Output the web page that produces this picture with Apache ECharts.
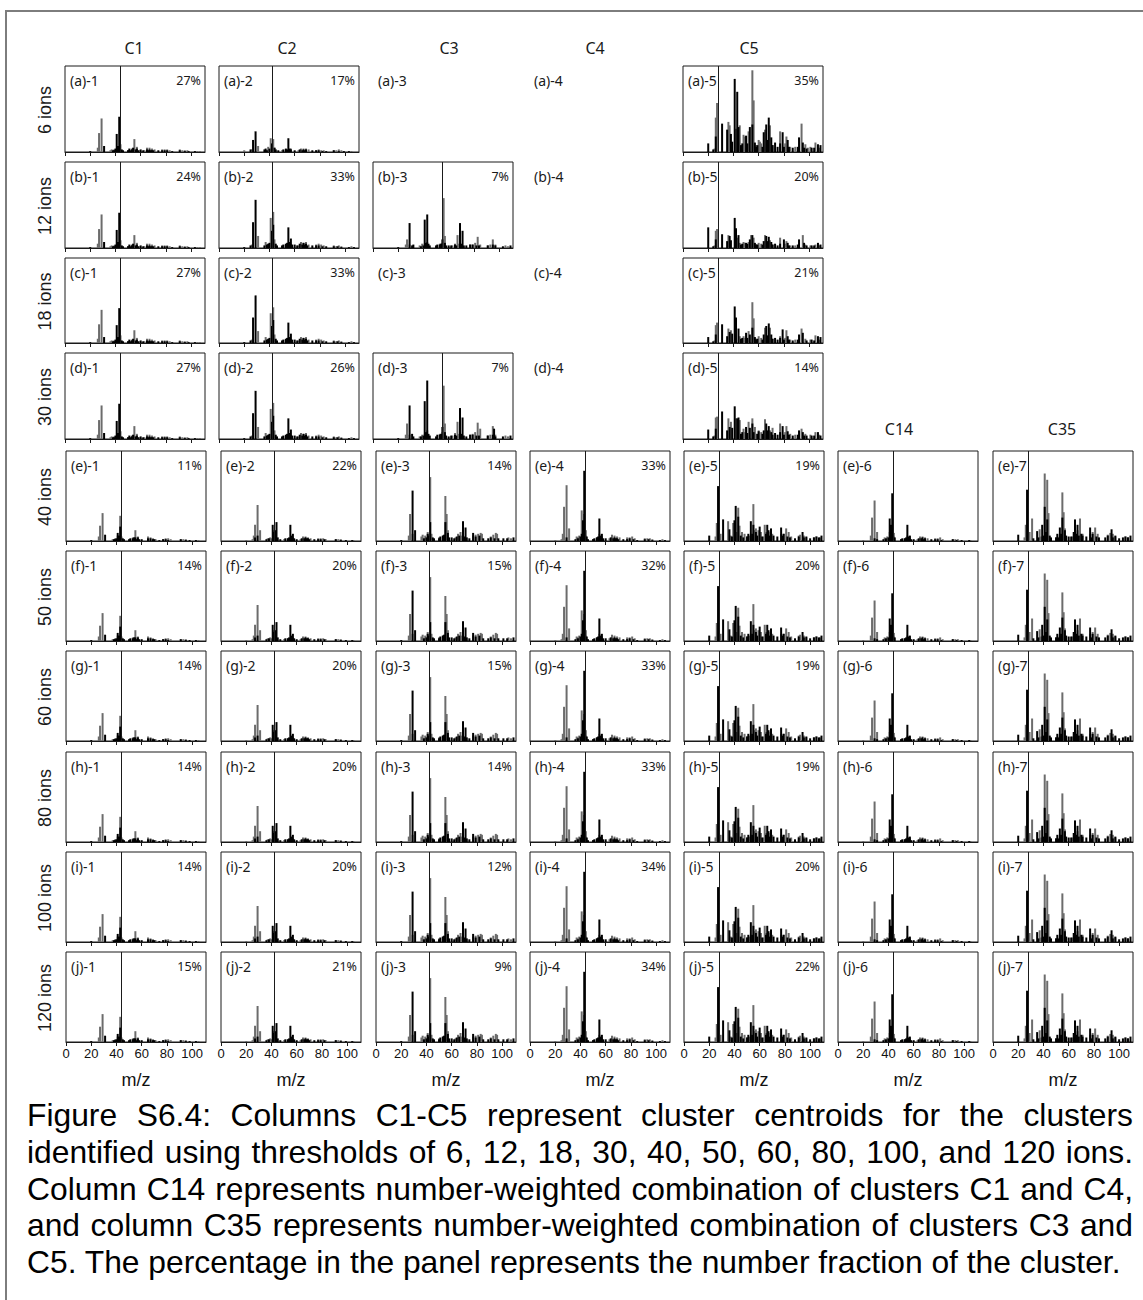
<!DOCTYPE html>
<html>
<head>
<meta charset="utf-8">
<title>Figure S6.4 cluster centroids</title>
<script src="https://cdn.jsdelivr.net/npm/echarts@6/dist/echarts.min.js"></script>
<style>
  html, body { margin: 0; padding: 0; background: #fff; }
  #page { position: relative; width: 1143px; height: 1300px; overflow: hidden; }
  #frame { position: absolute; left: 5px; top: 10px; width: 1200px; height: 1400px;
           border-left: 2px solid #7d7d7d; border-top: 2px solid #7d7d7d; }
  #chart { position: absolute; left: 0; top: 0; width: 1143px; height: 1095px; }
  #caption { position: absolute; left: 27px; top: 1097px; width: 1106px;
             font-family: 'Liberation Sans', Arial, sans-serif; font-size: 31.8px; color: #000; }
  #caption div { height: 36.8px; line-height: 36.8px; text-align: justify; text-align-last: justify; }
  #caption div.last { text-align-last: left; }
</style>
</head>
<body>
<div id="page">
  <div id="frame"></div>
  <div id="chart"></div>
  <div id="caption">
    <div>Figure S6.4: Columns C1-C5 represent cluster centroids for the clusters</div>
    <div>identified using thresholds of 6, 12, 18, 30, 40, 50, 60, 80, 100, and 120 ions.</div>
    <div>Column C14 represents number-weighted combination of clusters C1 and C4,</div>
    <div>and column C35 represents number-weighted combination of clusters C3 and</div>
    <div class="last">C5. The percentage in the panel represents the number fraction of the cluster.</div>
  </div>
</div>
<script>
// ---- spectra: [m/z, bar height in % of panel height] ----

// C1, 6-30 ions
const c1TopGrey = [[26,5],[27,22],[29,39],[36,2],[37,3],[39,3],[42,3],[44,9],[50,2],[53,4],[55,15],[57,6],[59,2],[63,2],[65,5],[67,5],[69,4],[71,3],[77,3],[79,3],[81,3],[83,2],[91,3],[93,2],[95,2],[97,2],[105,1],[107,1]];
const c1TopBlack = [[20,1],[31,7],[38,2],[39,2],[40,4],[41,21],[42,7],[43,41],[45,3],[46,2],[50,2],[51,4],[52,2],[53,3],[54,5],[56,3],[57,4],[58,2],[60,3],[62,2],[65,3],[66,2],[67,3],[68,2],[69,2],[70,2],[74,2],[77,2],[79,2],[81,2],[85,1],[91,2],[95,1],[98,1],[103,1]];
// C1, 40-120 ions
const c1Grey = [[26,5],[27,17],[29,31],[37,2],[39,3],[41,6],[43,28],[44,5],[53,4],[55,12],[57,5],[65,5],[67,4],[69,3],[71,2],[77,2],[79,3],[81,3],[83,2],[91,2],[93,2],[95,2],[105,1]];
const c1Black = [[20,1],[31,7],[38,2],[39,2],[40,3],[41,9],[42,6],[43,16],[45,3],[46,2],[50,2],[51,3],[53,3],[54,4],[55,4],[56,2],[57,4],[58,2],[60,2],[65,3],[67,3],[69,2],[70,2],[74,1],[77,2],[79,2],[81,1],[91,2],[95,1],[98,1],[103,1]];

// C2, 6 ions
const c2AGrey = [[20,2],[26,3],[31,7],[37,2],[39,6],[41,16],[43,15],[44,5],[50,2],[53,3],[57,4],[63,2],[65,4],[67,4],[69,4],[71,3],[77,2],[79,3],[81,2],[83,2],[91,2],[93,2],[95,3],[97,2],[105,1]];
const c2ABlack = [[25,3],[27,14],[29,24],[36,3],[37,4],[38,2],[40,4],[42,10],[44,5],[45,3],[47,2],[51,3],[53,4],[54,3],[55,16],[56,4],[57,3],[60,2],[64,3],[66,2],[67,3],[68,2],[69,3],[74,2],[77,2],[79,2],[82,1],[85,1],[91,2],[95,1],[99,1],[103,1]];
// C2, 12-30 ions
const c2TopGrey = [[26,4],[31,14],[37,7],[39,4],[41,35],[43,42],[44,10],[50,2],[53,4],[55,6],[57,5],[63,3],[65,7],[67,6],[69,7],[71,4],[77,4],[79,5],[81,4],[83,3],[91,3],[93,2],[95,3],[97,2],[105,2]];
const c2TopBlack = [[20,1],[25,3],[27,30],[29,56],[36,3],[38,4],[39,5],[40,6],[42,20],[43,27],[45,5],[46,3],[50,3],[51,4],[53,5],[54,6],[55,24],[56,7],[57,11],[58,4],[60,4],[62,3],[64,5],[66,4],[67,6],[68,4],[69,5],[70,3],[74,3],[77,3],[79,3],[82,2],[85,2],[91,2],[94,2],[97,1],[103,1],[107,1]];
// C2, 40-120 ions
const c2Grey = [[20,1],[25,2],[26,6],[27,18],[29,40],[31,12],[37,3],[39,4],[40,3],[42,12],[43,8],[50,2],[53,3],[57,4],[63,2],[65,5],[67,5],[69,4],[71,3],[77,3],[79,3],[81,3],[83,2],[91,2],[93,2],[95,2],[105,1]];
const c2Black = [[27,4],[29,6],[36,2],[38,3],[41,18],[42,10],[43,12],[44,21],[45,4],[47,2],[51,3],[53,3],[54,4],[55,18],[56,6],[57,8],[58,3],[60,2],[64,3],[66,3],[67,4],[68,3],[69,3],[70,2],[74,2],[77,2],[79,2],[82,2],[91,2],[95,1],[99,1],[104,1]];

// C3, 12 ions
const c3BGrey = [[26,4],[27,10],[29,4],[37,3],[39,5],[41,5],[43,7],[53,5],[55,6],[56,58],[57,14],[63,3],[65,5],[67,15],[68,5],[77,4],[79,4],[81,6],[83,13],[85,4],[91,3],[93,4],[95,10],[97,4],[105,3],[107,2]];
const c3BBlack = [[20,1],[29,29],[31,3],[32,4],[38,2],[40,3],[41,33],[42,6],[43,39],[44,5],[45,3],[50,3],[51,4],[53,4],[54,5],[55,10],[57,6],[58,3],[60,3],[62,3],[65,4],[66,3],[69,29],[70,5],[71,20],[72,3],[74,3],[77,4],[79,4],[82,3],[84,3],[91,3],[95,4],[97,3],[103,2],[109,3]];
// C3, 30 ions
const c3DGrey = [[26,5],[27,18],[29,5],[37,3],[39,5],[41,6],[43,10],[53,6],[55,8],[56,62],[57,18],[63,4],[65,7],[67,20],[68,6],[77,5],[79,6],[81,8],[83,19],[85,12],[91,4],[93,5],[95,15],[97,5],[105,4],[107,3]];
const c3DBlack = [[20,1],[29,39],[31,6],[32,3],[38,3],[40,4],[41,44],[42,8],[43,68],[44,6],[45,4],[50,3],[51,5],[53,5],[54,6],[55,14],[57,8],[58,4],[60,3],[62,4],[65,5],[66,4],[69,36],[70,6],[71,25],[72,4],[74,3],[77,5],[79,5],[82,4],[84,4],[91,4],[95,5],[96,12],[97,3],[103,3],[109,4]];
// C3, 40-120 ions
const c3Grey = [[26,6],[27,30],[29,8],[36,5],[37,7],[39,6],[41,10],[43,71],[44,8],[50,4],[53,6],[55,50],[56,30],[57,12],[63,4],[65,8],[67,10],[68,6],[77,6],[79,7],[81,8],[83,9],[84,8],[91,5],[93,7],[95,9],[96,8],[105,4],[107,3]];
const c3Black = [[20,1],[29,56],[31,12],[38,3],[40,4],[41,8],[42,6],[43,21],[45,4],[46,3],[50,3],[51,5],[53,6],[54,7],[55,21],[57,9],[58,4],[60,4],[62,3],[64,5],[66,6],[69,22],[70,5],[71,15],[72,4],[74,3],[77,9],[79,5],[82,6],[85,3],[89,3],[91,4],[94,3],[97,3],[101,3],[104,3],[109,4]];

// C4, 40-120 ions
const c4Grey = [[20,1],[25,2],[26,8],[27,38],[29,62],[31,14],[37,5],[38,4],[39,6],[41,34],[43,30],[44,6],[50,2],[53,4],[55,8],[57,5],[63,3],[65,7],[67,6],[69,5],[71,4],[77,4],[79,4],[81,5],[83,3],[91,3],[93,3],[95,3],[97,2],[105,2]];
const c4Black = [[29,4],[36,2],[38,3],[40,5],[41,8],[42,23],[43,78],[44,12],[45,5],[46,2],[50,2],[51,3],[53,4],[54,5],[55,25],[56,6],[57,8],[58,3],[60,3],[64,4],[66,3],[67,4],[68,3],[69,3],[70,2],[74,2],[77,2],[79,3],[82,2],[85,1],[91,2],[94,2],[97,1],[103,1],[107,1]];

// C5, 6 / 12 / 18 / 30 ions
const c5AGrey = [[25,4],[26,40],[27,57],[36,35],[37,31],[42,27],[45,31],[48,20],[49,18],[52,24],[55,95],[56,60],[58,8],[60,14],[61,12],[62,10],[65,26],[69,31],[71,8],[77,24],[81,10],[82,18],[85,6],[89,6],[94,33],[97,9],[99,5],[101,6],[105,11],[108,5]];
const c5ABlack = [[20,10],[24,3],[26,18],[31,33],[35,26],[38,21],[39,12],[41,85],[43,70],[44,29],[46,8],[47,10],[50,19],[51,10],[53,29],[55,32],[57,11],[58,6],[59,8],[63,6],[64,23],[66,32],[67,14],[68,40],[70,17],[71,8],[73,11],[75,6],[77,10],[79,23],[80,6],[83,14],[84,6],[87,5],[91,6],[92,17],[95,11],[96,5],[98,4],[102,5],[104,5],[107,9],[109,8]];
const c5BGrey = [[25,3],[26,20],[27,22],[36,15],[37,8],[43,12],[45,6],[48,7],[49,6],[52,7],[54,15],[56,12],[58,4],[60,6],[62,5],[65,15],[69,9],[71,4],[77,12],[81,5],[82,8],[85,3],[89,3],[95,15],[97,4],[101,3],[105,4],[108,3]];
const c5BBlack = [[20,24],[24,2],[26,10],[31,16],[35,8],[37,14],[38,9],[41,35],[42,23],[44,15],[46,4],[47,5],[50,6],[51,5],[53,10],[55,15],[57,6],[58,4],[59,4],[63,4],[64,8],[66,14],[67,8],[68,13],[70,7],[71,4],[73,5],[75,3],[77,5],[80,10],[83,6],[84,3],[87,3],[91,4],[92,10],[96,6],[98,3],[102,3],[104,3],[107,6],[109,4]];
const c5CGrey = [[25,3],[26,21],[27,24],[36,17],[38,15],[42,20],[45,8],[48,8],[49,6],[52,14],[55,48],[56,29],[58,5],[60,8],[62,6],[65,18],[69,18],[71,5],[77,8],[81,6],[82,15],[85,4],[89,4],[94,17],[97,5],[101,4],[105,9],[108,4]];
const c5CBlack = [[20,7],[24,2],[26,10],[31,22],[35,8],[37,13],[39,11],[41,43],[42,30],[44,17],[46,5],[47,6],[50,12],[51,6],[53,10],[55,18],[57,7],[58,4],[59,5],[63,4],[64,10],[66,20],[67,9],[68,23],[70,10],[71,5],[73,6],[75,4],[77,6],[79,16],[80,4],[83,8],[84,4],[87,3],[91,4],[92,10],[95,12],[98,3],[102,4],[104,3],[107,8],[109,7]];
const c5DGrey = [[25,4],[26,25],[27,26],[36,24],[38,20],[42,24],[45,22],[48,12],[49,8],[52,20],[55,24],[57,14],[58,6],[60,10],[62,8],[65,23],[69,10],[71,13],[77,18],[81,8],[82,15],[85,6],[89,5],[94,12],[97,6],[101,5],[105,8],[108,5]];
const c5DBlack = [[20,11],[24,3],[26,12],[31,32],[35,10],[37,14],[39,13],[41,38],[43,24],[44,25],[46,6],[47,8],[50,14],[51,7],[53,13],[55,18],[56,8],[59,6],[60,9],[63,6],[64,10],[66,18],[67,10],[68,15],[70,8],[71,5],[73,7],[75,5],[77,8],[79,15],[80,5],[83,9],[84,5],[87,4],[91,5],[92,10],[95,8],[96,4],[98,4],[102,4],[104,4],[107,8],[109,4]];
// C5, 40-120 ions
const c5Grey = [[25,5],[26,20],[29,8],[35,22],[37,6],[39,20],[42,10],[43,37],[44,17],[46,10],[48,8],[50,5],[52,6],[55,41],[56,12],[57,14],[59,12],[61,10],[63,5],[64,18],[65,10],[67,10],[69,8],[70,8],[77,8],[79,8],[81,14],[83,10],[85,5],[91,6],[92,7],[95,6],[97,4],[103,4],[105,5],[108,4]];
const c5Black = [[20,6],[27,61],[31,24],[36,13],[38,5],[40,23],[41,39],[43,27],[45,6],[47,4],[50,5],[51,8],[53,22],[54,8],[55,18],[57,10],[58,6],[60,16],[62,5],[65,8],[66,18],[67,12],[68,6],[69,14],[71,6],[74,5],[77,15],[78,6],[79,8],[82,5],[84,4],[88,3],[91,5],[94,10],[95,4],[97,5],[100,3],[103,4],[105,5],[107,4],[109,6]];

// C14 (C1 + C4), 40-120 ions
const c14Grey = [[20,1],[26,6],[27,26],[29,45],[31,10],[37,4],[39,5],[41,10],[43,12],[44,5],[50,2],[53,3],[55,6],[57,4],[63,2],[65,5],[67,5],[69,4],[71,3],[77,3],[79,3],[81,4],[83,2],[91,2],[93,2],[95,2],[105,1]];
const c14Black = [[29,3],[31,2],[36,2],[38,3],[40,4],[41,25],[42,18],[43,53],[44,9],[45,4],[50,2],[51,3],[53,3],[54,4],[55,18],[56,5],[57,6],[58,2],[60,2],[64,3],[66,3],[67,4],[68,2],[69,3],[74,2],[77,2],[79,2],[82,1],[91,2],[94,1],[98,1],[104,1]];

// C35 (C3 + C5), 40-120 ions
const c35Grey = [[25,4],[26,18],[29,10],[31,25],[37,13],[38,5],[41,75],[43,68],[44,31],[50,4],[53,6],[55,54],[56,32],[57,14],[63,5],[65,20],[67,12],[69,25],[71,8],[77,8],[79,10],[81,15],[83,8],[91,7],[93,9],[95,8],[97,5],[105,5],[107,4]];
const c35Black = [[20,7],[27,57],[32,3],[35,11],[36,4],[39,18],[40,6],[41,38],[42,10],[43,24],[45,6],[46,4],[50,4],[51,8],[52,4],[53,15],[54,8],[55,26],[57,12],[58,6],[60,5],[62,5],[64,10],[65,24],[66,8],[67,18],[68,6],[70,8],[71,6],[74,5],[77,15],[78,4],[79,8],[82,5],[84,4],[89,4],[91,6],[94,13],[95,4],[97,6],[100,3],[103,4],[105,5],[107,4],[109,6]];

// reference m/z drawn as the vertical line in each panel
const markerMz = { c1Top: 44, c1: 44, c2A: 42.5, c2Top: 42.5, c2: 42.5, c3B: 55, c3D: 55, c3: 42,
                   c4: 44, c5A: 28, c5B: 28, c5C: 28, c5D: 28, c5: 28, c14: 44, c35: 28 };

// ---- panel table ----
const rowKeys = ['a', 'b', 'c', 'd', 'e', 'f', 'g', 'h', 'i', 'j'];
const rowLabels = ['6 ions', '12 ions', '18 ions', '30 ions', '40 ions', '50 ions', '60 ions', '80 ions', '100 ions', '120 ions'];
const columnNames = ['C1', 'C2', 'C3', 'C4', 'C5', 'C14', 'C35'];
const xTicks = [0, 20, 40, 60, 80, 100];
const lowerRow = ['c1', 'c2', 'c3', 'c4', 'c5', 'c14', 'c35'];
const panelSpectra = [
  ['c1Top', 'c2A', null, null, 'c5A'],
  ['c1Top', 'c2Top', 'c3B', null, 'c5B'],
  ['c1Top', 'c2Top', null, null, 'c5C'],
  ['c1Top', 'c2Top', 'c3D', null, 'c5D'],
  lowerRow, lowerRow, lowerRow, lowerRow, lowerRow, lowerRow
];
const panelShares = [
  ['27%', '17%', '', '', '35%'],
  ['24%', '33%', '7%', '', '20%'],
  ['27%', '33%', '', '', '21%'],
  ['27%', '26%', '7%', '', '14%'],
  ['11%', '22%', '14%', '33%', '19%', '', ''],
  ['14%', '20%', '15%', '32%', '20%', '', ''],
  ['14%', '20%', '15%', '33%', '19%', '', ''],
  ['14%', '20%', '14%', '33%', '19%', '', ''],
  ['14%', '20%', '12%', '34%', '20%', '', ''],
  ['15%', '21%', '9%', '34%', '22%', '', '']
];

const spectra = {
  c1Top: [c1TopGrey, c1TopBlack], c1: [c1Grey, c1Black],
  c2A: [c2AGrey, c2ABlack], c2Top: [c2TopGrey, c2TopBlack], c2: [c2Grey, c2Black],
  c3B: [c3BGrey, c3BBlack], c3D: [c3DGrey, c3DBlack], c3: [c3Grey, c3Black],
  c4: [c4Grey, c4Black],
  c5A: [c5AGrey, c5ABlack], c5B: [c5BGrey, c5BBlack], c5C: [c5CGrey, c5CBlack], c5D: [c5DGrey, c5DBlack], c5: [c5Grey, c5Black],
  c14: [c14Grey, c14Black], c35: [c35Grey, c35Black]
};

// ---- layout ----
const PANEL_W = 140;
const upperLefts = [65, 219, 373, 529, 683];
const lowerLefts = [66, 221, 376, 530, 684, 838, 993];
const rowTops = [66, 162, 258, 353, 451, 551, 651, 752, 852, 952];
const rowHeights = [86, 86, 85, 86, 90, 90, 90, 90, 90, 90];
const headerPos = [[134, 48], [287, 48], [449, 48], [595, 48], [749, 48], [899, 429], [1062, 429]];

const INK = '#1a1a1a';
const GREY = '#6c6c6c';
const BAR_W = 2;
const grids = [], xAxes = [], yAxes = [], series = [], graphics = [];

function addText(x, y, text, font, align, rotation) {
  graphics.push({
    type: 'text', x: x, y: y, rotation: rotation || 0, silent: true,
    style: { text: text, font: font, fill: INK, align: align, verticalAlign: 'middle',
             textAlign: align, textVerticalAlign: 'middle' }
  });
}

headerPos.forEach(function (p, i) {
  addText(p[0], p[1], columnNames[i], '16px "Noto Sans"', 'center');
});

rowKeys.forEach(function (key, r) {
  const top = rowTops[r], h = rowHeights[r];
  addText(45, top + h / 2 + 1, rowLabels[r], '18px "Liberation Sans"', 'center', Math.PI / 2);
  const lefts = r < 4 ? upperLefts : lowerLefts;
  panelSpectra[r].forEach(function (spec, c) {
    const left = lefts[c];
    addText(left + 5, top + 14, '(' + key + ')-' + (c + 1), '14px "Noto Sans"', 'left');
    if (!spec) return;
    const share = panelShares[r][c];
    if (share) addText(left + PANEL_W - 4, top + 14, share, '12.5px "Noto Sans"', 'right');

    const g = grids.length;
    const lastRow = r === rowKeys.length - 1;
    grids.push({ left: left, top: top, width: PANEL_W, height: h, show: true,
                 borderColor: INK, borderWidth: 1, backgroundColor: 'transparent',
                 containLabel: false, outerBoundsMode: 'none' });
    xAxes.push({
      gridIndex: g, type: 'value', min: 0, max: 111,
      axisLine: { show: true, onZero: false, lineStyle: { color: INK, width: 1 } },
      axisTick: { show: true, inside: false, length: 4, customValues: xTicks, lineStyle: { color: INK } },
      axisLabel: { show: lastRow, customValues: xTicks, margin: 5, color: '#111',
                   fontSize: 13, fontFamily: 'Liberation Sans' },
      splitLine: { show: false },
      name: lastRow ? 'm/z' : '', nameLocation: 'middle', nameGap: 29,
      nameTextStyle: { color: '#111', fontSize: 18, fontFamily: 'Liberation Sans' }
    });
    yAxes.push({ gridIndex: g, type: 'value', min: 0, max: 100, show: false });
    const pair = spectra[spec];
    series.push({
      type: 'bar', xAxisIndex: g, yAxisIndex: g, data: pair[0], barWidth: BAR_W, barGap: '-100%',
      itemStyle: { color: GREY }, silent: true, animation: false
    });
    series.push({
      type: 'bar', xAxisIndex: g, yAxisIndex: g, data: pair[1], barWidth: BAR_W, barGap: '-100%',
      itemStyle: { color: '#000' }, silent: true, animation: false,
      markLine: {
        silent: true, animation: false, symbol: ['none', 'none'], label: { show: false },
        lineStyle: { color: INK, width: 1, type: 'solid' },
        emphasis: { disabled: true },
        data: [{ xAxis: markerMz[spec] }]
      }
    });
  });
});

const chart = echarts.init(document.getElementById('chart'), null, { renderer: 'svg' });
chart.setOption({
  animation: false,
  backgroundColor: 'transparent',
  grid: grids, xAxis: xAxes, yAxis: yAxes, series: series,
  graphic: { elements: graphics }
});
</script>
</body>
</html>
